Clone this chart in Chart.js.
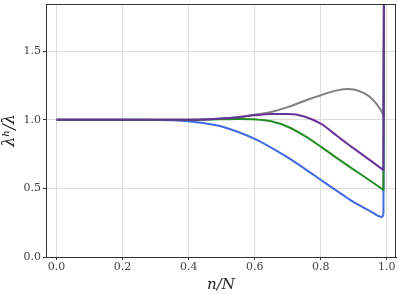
<!DOCTYPE html>
<html>
<head>
<meta charset="utf-8">
<script src="https://cdn.jsdelivr.net/npm/chart.js@4.4.1/dist/chart.umd.min.js"></script>
<style>
  html, body { margin: 0; padding: 0; background: #fff; }
  #wrap { width: 399px; height: 294px; }
</style>
</head>
<body>
<div id="wrap"><canvas id="ratioChart" width="399" height="294"></canvas></div>
<script>
// 資料：n/N 與各曲線的 λ^h/λ
var xVals = [0, 0.1, 0.2, 0.3, 0.35, 0.4, 0.45, 0.5, 0.55, 0.6, 0.65, 0.7, 0.75, 0.8, 0.85, 0.884, 0.9, 0.95, 0.985, 0.99, 0.992];
var grayVals   = [1, 1, 1, 1, 1, 1.0, 1.002, 1.01, 1.02, 1.037, 1.058, 1.093, 1.138, 1.18, 1.215, 1.225, 1.222, 1.165, 1.06, 1.034, 2.5];
var purpleVals = [1, 1, 1, 1, 1, 1.0, 1.003, 1.01, 1.02, 1.033, 1.042, 1.042, 1.025, 0.972, 0.882, 0.82, 0.792, 0.705, 0.643, 0.635, 2.5];
var greenVals  = [1, 1, 1, 1, 1, 1.0, 1.002, 1.004, 1.007, 1.004, 0.99, 0.95, 0.885, 0.805, 0.72, 0.663, 0.637, 0.556, 0.498, 0.49, 2.5];
var blueVals   = [1, 1, 1, 0.999, 0.997, 0.99, 0.975, 0.952, 0.912, 0.862, 0.798, 0.726, 0.646, 0.563, 0.48, 0.425, 0.4, 0.335, 0.292, 0.32, 2.5];

var xTicks = [0, 0.2, 0.4, 0.6, 0.8, 1.0];
var yTicks = [0, 0.5, 1.0, 1.5];

function toPoints(ys) {
  return xVals.map(function(x, i) { return { x: x, y: ys[i] }; });
}

function lineSet(label, ys, color) {
  return {
    label: label,
    data: toPoints(ys),
    borderColor: color,
    backgroundColor: color,
    borderWidth: 2,
    pointRadius: 0,
    cubicInterpolationMode: 'monotone',
    fill: false
  };
}

// 外框（上、右邊線）
const boxPlugin = {
  id: 'box',
  afterDraw: function(chart) {
    const a = chart.chartArea;
    const c = chart.ctx;
    c.save();
    c.strokeStyle = '#333';
    c.lineWidth = 1;
    c.strokeRect(a.left + 0.5, a.top + 0.5, a.right - a.left - 1, a.bottom - a.top);
    c.restore();
  }
};

const serif = "'DejaVu Serif', 'Liberation Serif', serif";

const ctx = document.getElementById('ratioChart').getContext('2d');
const ratioChart = new Chart(ctx, {
  type: 'line',
  data: {
    datasets: [
      lineSet('purple', purpleVals, '#663399'),
      lineSet('green', greenVals, '#228b22'),
      lineSet('blue', blueVals, '#4169e1'),
      lineSet('gray', grayVals, '#808080')
    ]
  },
  options: {
    responsive: false,
    animation: false,
    layout: { padding: { top: 0, right: 3, left: 0, bottom: 0 } },
    plugins: {
      legend: { display: false },
      tooltip: { enabled: false }
    },
    scales: {
      x: {
        type: 'linear',
        min: -0.032,
        max: 1.028,
        afterBuildTicks: function(scale) {
          scale.ticks = xTicks.map(function(v) { return { value: v }; });
        },
        afterFit: function(scale) { scale.height = 37; },
        ticks: {
          font: { family: serif, size: 11 },
          color: '#444',
          padding: 1,
          maxRotation: 0,
          callback: function(v) { return v.toFixed(1); }
        },
        grid: { color: '#dcdcdc', tickLength: 3, tickColor: '#333' },
        border: { color: '#333', width: 1 },
        title: {
          display: true,
          text: 'n/N',
          font: { family: serif, size: 15, style: 'italic' },
          color: '#222',
          padding: { top: 0, bottom: 0 }
        }
      },
      y: {
        type: 'linear',
        min: 0,
        max: 1.845,
        afterBuildTicks: function(scale) {
          scale.ticks = yTicks.map(function(v) { return { value: v }; });
        },
        afterFit: function(scale) {
          scale.width = 46;
          scale.paddingTop = 4;  // 上緣貼近畫布
        },
        ticks: {
          font: { family: serif, size: 11 },
          color: '#444',
          padding: 2,
          callback: function(v) { return v.toFixed(1); }
        },
        grid: { color: '#dcdcdc', tickLength: 3, tickColor: '#333' },
        border: { color: '#333', width: 1 },
        title: {
          display: true,
          text: 'λʰ/λ',
          font: { family: serif, size: 16, style: 'italic' },
          color: '#222',
          padding: { top: 0, bottom: 0 }
        }
      }
    }
  },
  plugins: [boxPlugin]
});
</script>
</body>
</html>
